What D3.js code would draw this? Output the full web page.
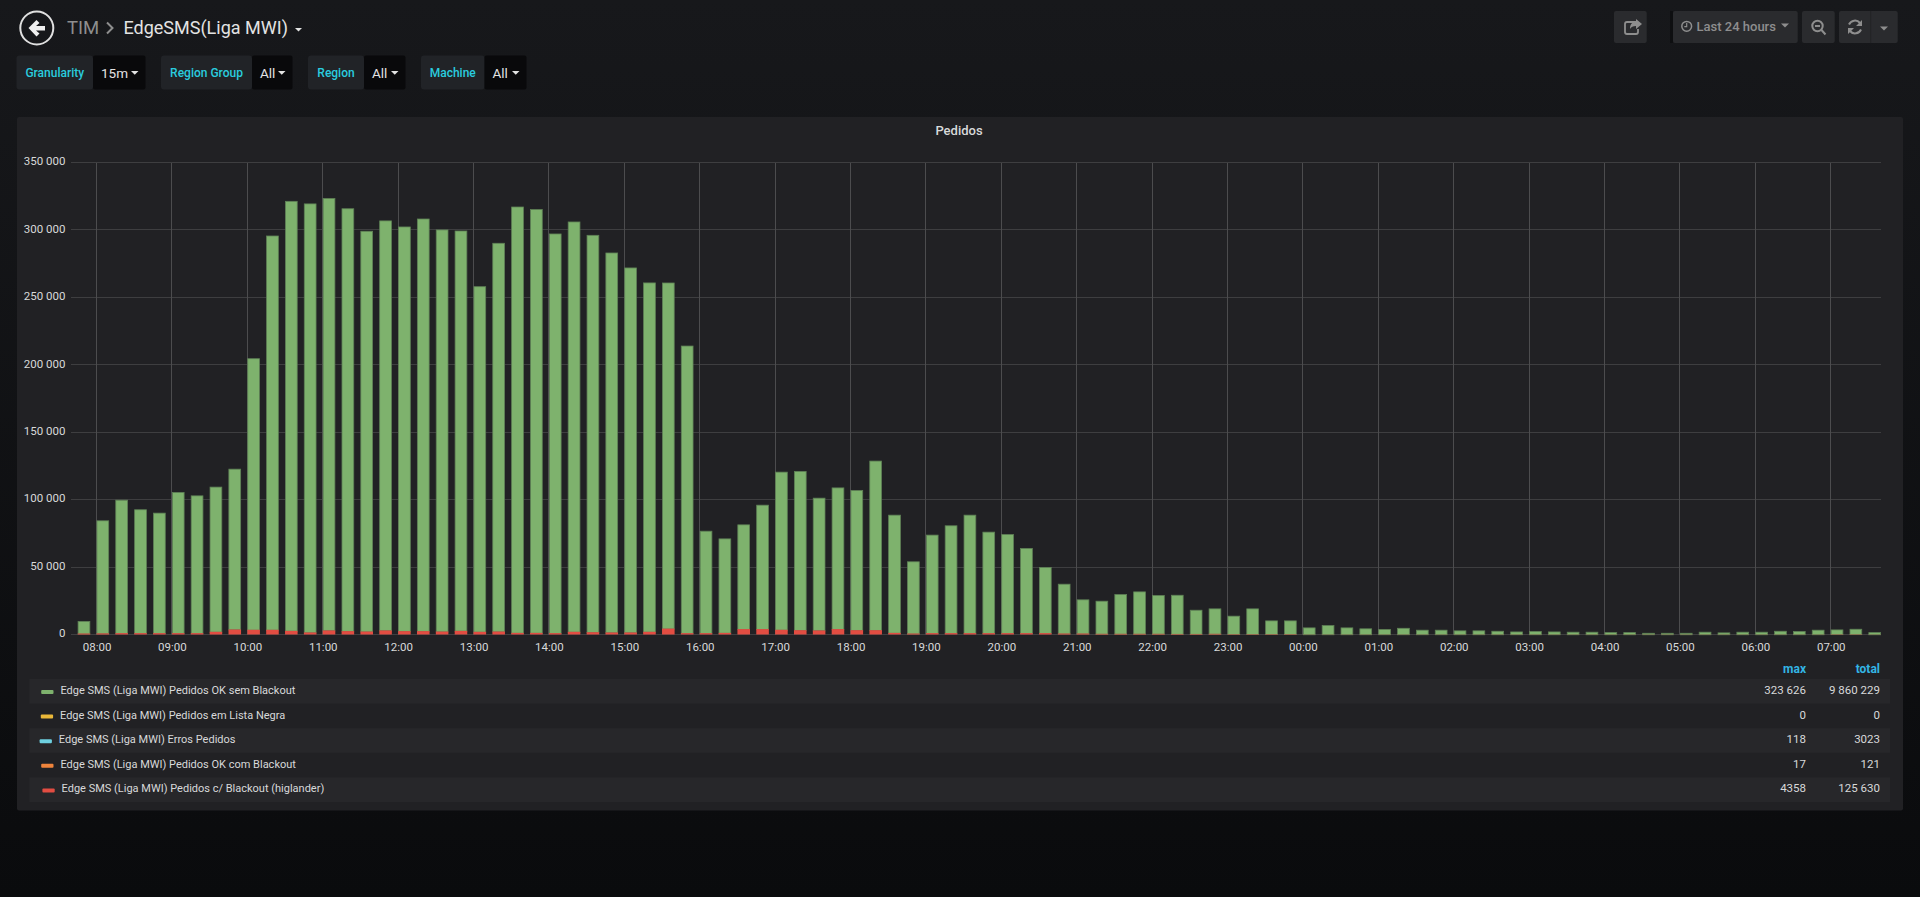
<!DOCTYPE html>
<html lang="en">
<head>
<meta charset="UTF-8">
<script src="https://d3js.org/d3.v7.min.js"></script>
<style>
  html, body { margin: 0; padding: 0; background: #0b0c0e; overflow: hidden; }
  svg { display: block; font-family: Roboto, sans-serif; }
</style>
</head>
<body>
<div id="chart"></div>
<script>
// bar start times are every 15 minutes from this one
var firstBar = "2018-03-01T07:45:00Z";

// thousands of requests, one per bar
var okSemBlackout = [
  9.3, 83.8, 98.9, 91.8, 89.3, 104.6, 102.1, 107.6, 119.2, 201.3, 292.3, 318.8,
  318.1, 320.6, 313.5, 297.1, 304, 300, 305.9, 298.1, 296.8, 256.2, 288.2, 316.1,
  314.2, 296.3, 304.2, 294.6, 281.7, 270.6, 259, 256.6, 213.2, 75.9, 70, 77.6,
  92.2, 117.2, 118, 98.4, 105, 103.9, 125.7, 87.6, 53.5, 73, 79.9, 87.8,
  75.2, 73.4, 63.1, 49, 36.9, 25.3, 24.5, 29.4, 31.4, 28.7, 29, 17.9,
  18.8, 13.6, 19, 10.1, 10.1, 5.1, 6.8, 5.1, 4.4, 3.9, 4.8, 3.4,
  3.4, 2.9, 2.9, 2.6, 2.1, 2.4, 2.1, 1.9, 1.9, 1.6, 1.6, 1.1,
  1.1, 1.1, 1.9, 1.4, 1.9, 1.9, 2.6, 2.4, 3.4, 3.5, 4, 1.6
];
var comBlackout = [
  0.7, 0.8, 1, 1, 1, 1, 1, 2, 3.7, 3.5, 3.5, 2.7,
  1.5, 3, 2.5, 2.2, 3, 2.5, 2.5, 2.2, 2.7, 2, 2.2, 1.2,
  1.2, 1, 2, 1.7, 1.5, 1.5, 2, 4.358, 1, 1, 1.2, 4,
  4, 3.5, 3.2, 3, 4, 3.2, 3.2, 1.2, 0.7, 1, 1, 1,
  1, 1, 1, 1, 0.7, 0.7, 0.5, 0.5, 0.5, 0.5, 0.4, 0.4,
  0.5, 0.3, 0.3, 0.3, 0.3, 0.1, 0.1, 0.1, 0.1, 0.1, 0.1, 0.1,
  0.1, 0.1, 0.1, 0.1, 0.1, 0.1, 0.1, 0.1, 0.1, 0.1, 0.1, 0.1,
  0.1, 0.1, 0.1, 0.1, 0.1, 0.1, 0.1, 0.1, 0.1, 0.2, 0.2, 0.1
];

var yTicks = [0, 50000, 100000, 150000, 200000, 250000, 300000, 350000];

var legendNames = [
  "Edge SMS (Liga MWI) Pedidos OK sem Blackout",
  "Edge SMS (Liga MWI) Pedidos em Lista Negra",
  "Edge SMS (Liga MWI) Erros Pedidos",
  "Edge SMS (Liga MWI) Pedidos OK com Blackout",
  "Edge SMS (Liga MWI) Pedidos c/ Blackout (higlander)"
];
var legendColors = ["#7eb26d", "#eab839", "#6ed0e0", "#ef843c", "#e24d42"];
var legendMax = ["323 626", "0", "118", "17", "4358"];
var legendTotal = ["9 860 229", "0", "3023", "121", "125 630"];
var legendOffsets = [0, -0.4, -1.6, 0, 1.2];

var variables = [
  {label: "Granularity", value: "15m", x0: 16.5, x1: 93, x2: 145.5},
  {label: "Region Group", value: "All", x0: 161, x1: 252, x2: 292.5},
  {label: "Region", value: "All", x0: 308, x1: 364, x2: 405.5},
  {label: "Machine", value: "All", x0: 421, x1: 484.5, x2: 526.5}
];

var W = 1920, H = 897;
var plot = {left: 71.4, right: 1881, top: 162.5, bottom: 634.5};

var svg = d3.select("#chart").append("svg").attr("width", W).attr("height", H);

// page background
var grad = svg.append("defs").append("linearGradient")
  .attr("id", "page").attr("x1", 0).attr("x2", 0).attr("y1", 0).attr("y2", 1);
grad.append("stop").attr("offset", "0%").attr("stop-color", "#17181b");
grad.append("stop").attr("offset", "100%").attr("stop-color", "#0a0b0d");
svg.append("rect").attr("width", W).attr("height", H).attr("fill", "url(#page)");

// ---- header ----
var head = svg.append("g");
head.append("circle").attr("cx", 36.8).attr("cy", 28).attr("r", 16.5)
  .attr("fill", "none").attr("stroke", "#e0e0e0").attr("stroke-width", 2);
head.append("path").attr("d", "M28.5 28 L36.5 20 L39.5 23 L36 26 H45 V30.5 H36 L39.5 33.5 L36.5 36.5 Z")
  .attr("fill", "#f0f0f0");
head.append("text").attr("x", 67).attr("y", 33.5).attr("font-size", 18.5).attr("fill", "#8e8e8e").text("TIM");
head.append("path").attr("d", "M107 22.5 L112.5 28 L107 33.5").attr("fill", "none")
  .attr("stroke", "#8e8e8e").attr("stroke-width", 2);
head.append("text").attr("x", 123.5).attr("y", 33.5).attr("font-size", 18).attr("fill", "#e3e3e3").text("EdgeSMS(Liga MWI)");
head.append("path").attr("d", "M295 28 h7 l-3.5 3.5 Z").attr("fill", "#e3e3e3");

// template variables
var vars = svg.append("g").selectAll("g").data(variables).enter().append("g");
vars.append("rect").attr("x", function(d) { return d.x0; }).attr("y", 55.5)
  .attr("width", function(d) { return d.x1 - d.x0; }).attr("height", 34).attr("rx", 3)
  .attr("fill", "#212327");
vars.append("rect").attr("x", function(d) { return d.x1; }).attr("y", 55.5)
  .attr("width", function(d) { return d.x2 - d.x1; }).attr("height", 34).attr("rx", 2)
  .attr("fill", "#09090b");
vars.append("text").attr("x", function(d) { return (d.x0 + d.x1) / 2; }).attr("y", 77)
  .attr("text-anchor", "middle").attr("font-size", 12).attr("font-weight", 500)
  .attr("fill", "#2accdf").text(function(d) { return d.label; });
vars.append("text").attr("x", function(d) { return d.x1 + 8; }).attr("y", 78)
  .attr("font-size", 13.5).attr("fill", "#e3e3e3").text(function(d) { return d.value; });
vars.append("path").attr("d", function(d) { return "M" + (d.x2 - 14.5) + " 71 h7.5 l-3.75 3.8 Z"; })
  .attr("fill", "#e3e3e3");

// toolbar on the right
var toolbar = svg.append("g");
[[1614, 1646.7], [1673, 1797.7], [1802, 1834.7], [1839, 1897.7]].forEach(function(b) {
  toolbar.append("rect").attr("x", b[0]).attr("y", 11).attr("width", b[1] - b[0]).attr("height", 32)
    .attr("rx", 2).attr("fill", "#2a2b2e");
});
toolbar.append("rect").attr("x", 1670).attr("y", 11).attr("width", 3).attr("height", 32).attr("fill", "#0e0f11");
toolbar.append("line").attr("x1", 1870.7).attr("x2", 1870.7).attr("y1", 11).attr("y2", 43).attr("stroke", "#222326");
// share
toolbar.append("path").attr("d", "M1636 22 h-9 a2 2 0 0 0 -2 2 v8 a2 2 0 0 0 2 2 h9 a2 2 0 0 0 2 -2 v-3")
  .attr("fill", "none").attr("stroke", "#8e8e8e").attr("stroke-width", 1.8);
toolbar.append("path").attr("d", "M1630 29 c0 -6 3 -7 6 -7 v-3 l6 5 l-6 5 v-3 c-3 0 -5 1 -6 3 Z").attr("fill", "#8e8e8e");
// clock
toolbar.append("circle").attr("cx", 1686.7).attr("cy", 26.3).attr("r", 4.9).attr("fill", "none")
  .attr("stroke", "#8e8e8e").attr("stroke-width", 1.5);
toolbar.append("path").attr("d", "M1686.7 23 v3.6 h-2.4").attr("fill", "none").attr("stroke", "#8e8e8e").attr("stroke-width", 1.2);
toolbar.append("text").attr("x", 1696.5).attr("y", 31.3).attr("font-size", 13).attr("font-weight", 500)
  .attr("fill", "#8e8e8e").text("Last 24 hours");
toolbar.append("path").attr("d", "M1781 23.5 h8 l-4 4 Z").attr("fill", "#8e8e8e");
// zoom out
toolbar.append("circle").attr("cx", 1817.5).attr("cy", 26).attr("r", 5.2).attr("fill", "none")
  .attr("stroke", "#8e8e8e").attr("stroke-width", 2);
toolbar.append("path").attr("d", "M1815 26 h5 M1821.5 30 l4 4.5").attr("stroke", "#8e8e8e").attr("stroke-width", 2);
// refresh
toolbar.append("path").attr("d", "M1849 24.5 a6.5 6.5 0 0 1 11 -1.5 M1861 29.5 a6.5 6.5 0 0 1 -11 1.5")
  .attr("fill", "none").attr("stroke", "#8e8e8e").attr("stroke-width", 2);
toolbar.append("path").attr("d", "M1862 20 v6 h-6 Z M1848 34 v-6 h6 Z").attr("fill", "#8e8e8e");
toolbar.append("path").attr("d", "M1880 26.5 h8 l-4 4 Z").attr("fill", "#8e8e8e");

// ---- panel ----
svg.append("rect").attr("x", 17).attr("y", 117).attr("width", 1886).attr("height", 693.5)
  .attr("rx", 2).attr("fill", "#212124");
svg.append("text").attr("x", 959).attr("y", 134.5).attr("text-anchor", "middle")
  .attr("font-size", 13).attr("font-weight", 500).attr("fill", "#d8d9da").text("Pedidos");

// ---- scales ----
var start = new Date(firstBar);
var times = okSemBlackout.map(function(d, i) { return d3.utcMinute.offset(start, i * 15); });

var x = d3.scaleUtc()
  .domain([d3.utcMinute.offset(start, -5), d3.utcMinute.offset(start, 24 * 60 - 5)])
  .range([plot.left, plot.right]);
var y = d3.scaleLinear().domain([0, 350000]).range([plot.bottom, plot.top]);

var fmt = d3.formatLocale({decimal: ".", thousands: " ", grouping: [3], currency: ["", ""]}).format(",d");

// grid lines
svg.append("g").attr("shape-rendering", "crispEdges").selectAll("line").data(yTicks).enter().append("line")
  .attr("x1", plot.left).attr("x2", plot.right)
  .attr("y1", function(d) { return y(d); }).attr("y2", function(d) { return y(d); })
  .attr("stroke", "#3e3e40").attr("stroke-width", 1);
svg.append("g").attr("shape-rendering", "crispEdges").selectAll("line").data(x.ticks(d3.utcHour.every(1))).enter().append("line")
  .attr("x1", function(d) { return x(d); }).attr("x2", function(d) { return x(d); })
  .attr("y1", plot.top).attr("y2", plot.bottom)
  .attr("stroke", "#4c4c4e").attr("stroke-width", 1);

// axes
var yAxis = svg.append("g").attr("transform", "translate(" + plot.left + ",0)")
  .call(d3.axisLeft(y).tickValues(yTicks).tickFormat(fmt).tickSize(0).tickPadding(6));
var xAxis = svg.append("g").attr("transform", "translate(0," + plot.bottom + ")")
  .call(d3.axisBottom(x).ticks(d3.utcHour.every(1)).tickFormat(d3.utcFormat("%H:%M")).tickSize(0).tickPadding(8));
[yAxis, xAxis].forEach(function(a) {
  a.select(".domain").remove();
  a.selectAll("text").attr("fill", "#d8d9da").attr("font-family", "Roboto, sans-serif").attr("font-size", 11.5);
});
yAxis.selectAll("text").attr("dy", "0.2em");

// stacked bars, 10 minutes wide out of 15
var barWidth = x(d3.utcMinute.offset(start, 10)) - x(start);
var bars = svg.append("g").selectAll("g").data(times).enter().append("g");
bars.append("rect")
  .attr("x", function(d) { return x(d) + 0.4; })
  .attr("width", barWidth - 0.8)
  .attr("y", function(d, i) { return y((comBlackout[i] + okSemBlackout[i]) * 1000) + 0.4; })
  .attr("height", function(d, i) { return y(comBlackout[i] * 1000) - y((comBlackout[i] + okSemBlackout[i]) * 1000); })
  .attr("fill", legendColors[0])
  .attr("stroke", "#5f8156").attr("stroke-width", 0.8);
bars.append("rect")
  .attr("x", function(d) { return x(d); })
  .attr("width", barWidth)
  .attr("y", function(d, i) { return y(comBlackout[i] * 1000); })
  .attr("height", function(d, i) { return y(0) - y(comBlackout[i] * 1000); })
  .attr("fill", legendColors[4]);

// ---- legend ----
var rowH = 24.6, rowTop = 679;
var legend = svg.append("g");
legend.append("text").attr("x", 1806).attr("y", 673).attr("text-anchor", "end")
  .attr("font-size", 12).attr("font-weight", 700).attr("fill", "#33b5e5").text("max");
legend.append("text").attr("x", 1880).attr("y", 673).attr("text-anchor", "end")
  .attr("font-size", 12).attr("font-weight", 700).attr("fill", "#33b5e5").text("total");

var rows = legend.selectAll("g").data(legendNames).enter().append("g")
  .attr("transform", function(d, i) { return "translate(0," + (rowTop + i * rowH) + ")"; });
rows.append("rect").attr("x", 29.4).attr("width", 1860.6).attr("height", rowH)
  .attr("fill", function(d, i) { return i % 2 === 0 ? "#27272a" : "none"; });
rows.append("rect").attr("x", function(d, i) { return 41.2 + legendOffsets[i]; }).attr("y", 11).attr("width", 12.3).attr("height", 4)
  .attr("rx", 1).attr("fill", function(d, i) { return legendColors[i]; });
rows.append("text").attr("x", function(d, i) { return 60.4 + legendOffsets[i]; }).attr("y", 15)
  .attr("font-size", 11).attr("fill", "#d8d9da").text(function(d) { return d; });
rows.append("text").attr("x", 1806).attr("y", 15).attr("text-anchor", "end")
  .attr("font-size", 11.5).attr("fill", "#d8d9da").text(function(d, i) { return legendMax[i]; });
rows.append("text").attr("x", 1880).attr("y", 15).attr("text-anchor", "end")
  .attr("font-size", 11.5).attr("fill", "#d8d9da").text(function(d, i) { return legendTotal[i]; });
</script>
</body>
</html>
